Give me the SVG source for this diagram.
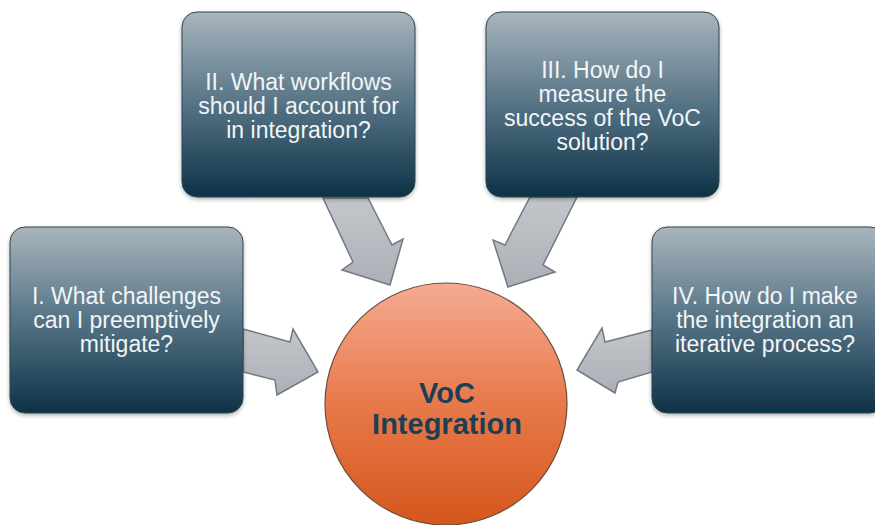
<svg xmlns="http://www.w3.org/2000/svg" width="875" height="525" viewBox="0 0 875 525">
  <defs>
    <linearGradient id="boxGrad" x1="0" y1="0" x2="0" y2="1">
      <stop offset="0" stop-color="#a9b5bd"/>
      <stop offset="0.5" stop-color="#557385"/>
      <stop offset="1" stop-color="#0e3247"/>
    </linearGradient>
    <linearGradient id="circGrad" x1="0" y1="0" x2="0" y2="1">
      <stop offset="0" stop-color="#f5ab92"/>
      <stop offset="0.5" stop-color="#e8794a"/>
      <stop offset="1" stop-color="#d4561c"/>
    </linearGradient>
    <linearGradient id="arrowGrad" x1="0" y1="0" x2="0" y2="1">
      <stop offset="0" stop-color="#c3c6cb"/>
      <stop offset="1" stop-color="#acb0b6"/>
    </linearGradient>
    <filter id="shadow" x="-10%" y="-10%" width="130%" height="130%">
      <feGaussianBlur in="SourceAlpha" stdDeviation="2"/>
      <feOffset dx="0" dy="2" result="b"/>
      <feComponentTransfer><feFuncA type="linear" slope="0.3"/></feComponentTransfer>
      <feMerge><feMergeNode/><feMergeNode in="SourceGraphic"/></feMerge>
    </filter>
  </defs>
  <style>
    .box { fill: url(#boxGrad); stroke: #2f4350; stroke-width: 1; filter: url(#shadow); }
    .btxt { font-family: "Liberation Sans", Arial, sans-serif; font-size: 23px; fill: #f2f5f7; text-anchor: middle; }
    .arrow { fill: url(#arrowGrad); stroke: #6f7a82; stroke-width: 1.5; stroke-linejoin: miter; }
    .circ { fill: url(#circGrad); stroke: #6b4c3c; stroke-width: 1.2; }
    .ctxt { font-family: "Liberation Sans", Arial, sans-serif; font-size: 29px; font-weight: bold; fill: #1c3f55; text-anchor: middle; }
  </style>
  <rect width="875" height="525" fill="#ffffff"/>

  <g id="connectors">
    <polygon class="arrow" points="243,329 290,342 293,329 318,372 277,395 275,380 243,372"/>
    <polygon class="arrow" points="323,198 368,198 392,245 403,239 390,285 342,270 353,262"/>
    <polygon class="arrow" points="530,197 577,197 543,265 555,272 508,287 493,240 505,245"/>
    <polygon class="arrow" points="652,330 605,342 602,328 577,370 615,393 618,382 652,372"/>
  </g>

  <g id="node1">
    <rect class="box" x="10" y="227" width="233" height="186" rx="15" ry="15"/>
    <text class="btxt" x="126.5" y="304">I. What challenges</text>
    <text class="btxt" x="126.5" y="328">can I preemptively</text>
    <text class="btxt" x="126.5" y="352">mitigate?</text>
  </g>

  <g id="node2">
    <rect class="box" x="182" y="12" width="233" height="185" rx="15" ry="15"/>
    <text class="btxt" x="298.5" y="90">II. What workflows</text>
    <text class="btxt" x="298.5" y="114">should I account for</text>
    <text class="btxt" x="298.5" y="138">in integration?</text>
  </g>

  <g id="node3">
    <rect class="box" x="486" y="12" width="233" height="185" rx="15" ry="15"/>
    <text class="btxt" x="602.5" y="78">III. How do I</text>
    <text class="btxt" x="602.5" y="102">measure the</text>
    <text class="btxt" x="602.5" y="126">success of the VoC</text>
    <text class="btxt" x="602.5" y="150">solution?</text>
  </g>

  <g id="node4">
    <rect class="box" x="652" y="227" width="233" height="186" rx="15" ry="15"/>
    <text class="btxt" x="765" y="304">IV. How do I make</text>
    <text class="btxt" x="765" y="328">the integration an</text>
    <text class="btxt" x="765" y="352">iterative process?</text>
  </g>

  <g id="center">
    <circle class="circ" cx="446" cy="404" r="121"/>
    <text class="ctxt" x="447" y="403">VoC</text>
    <text class="ctxt" x="447" y="434">Integration</text>
  </g>
</svg>
